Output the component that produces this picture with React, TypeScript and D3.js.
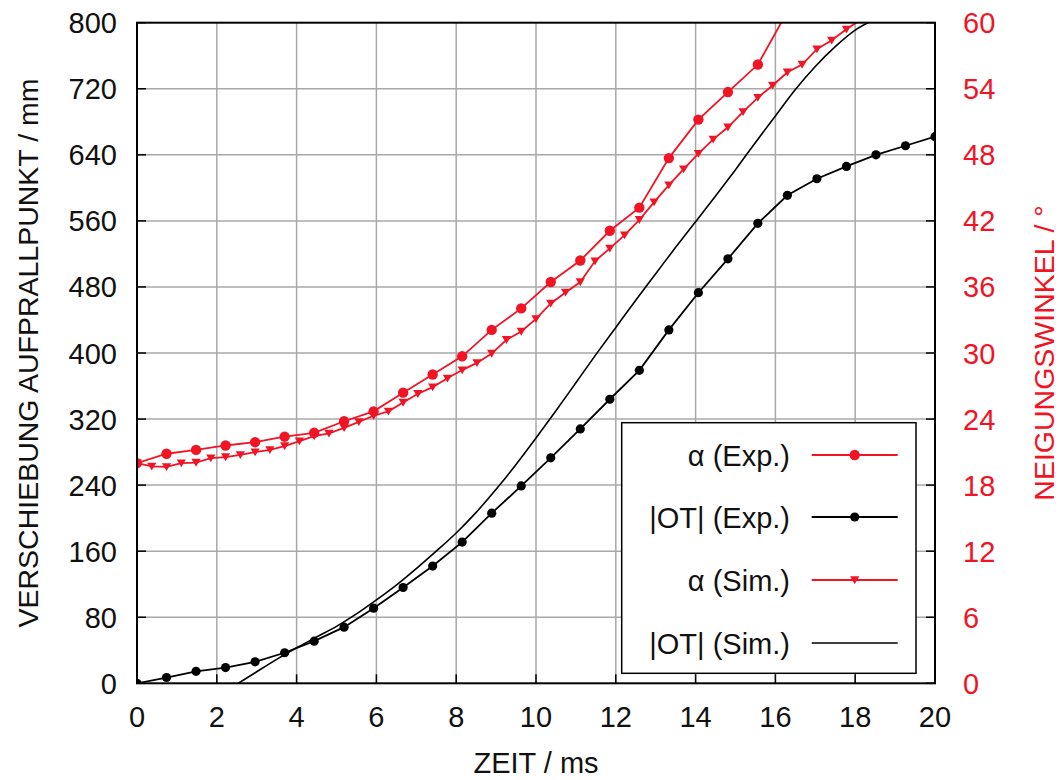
import React from "react";
import * as d3 from "d3";

// ---- data ----
const expTimes = [0, 0.74, 1.48, 2.22, 2.96, 3.7, 4.44, 5.19, 5.93, 6.67, 7.41, 8.15, 8.89, 9.63, 10.37, 11.11, 11.85, 12.59, 13.33, 14.07, 14.81, 15.56, 16.3, 17.04, 17.78, 18.52, 19.26, 20.0];
const alphaExp = [20.0, 20.85, 21.2, 21.6, 21.9, 22.4, 22.75, 23.8, 24.7, 26.4, 28.05, 29.7, 32.1, 34.05, 36.45, 38.4, 41.1, 43.2, 47.7, 51.2, 53.7, 56.2, 61.0];
const otExp = [0, 7, 14.5, 19, 26, 37, 51, 68, 91, 116, 142, 171, 206, 239, 273, 308, 344, 379, 428, 473, 514, 557, 591, 611, 626, 640, 651, 662];

const simTimes = [0, 0.37, 0.74, 1.11, 1.48, 1.85, 2.22, 2.59, 2.96, 3.33, 3.7, 4.07, 4.44, 4.81, 5.19, 5.56, 5.93, 6.3, 6.67, 7.04, 7.41, 7.78, 8.15, 8.52, 8.89, 9.26, 9.63, 10.0, 10.37, 10.74, 11.11, 11.48, 11.85, 12.22, 12.59, 12.96, 13.33, 13.7, 14.07, 14.44, 14.81, 15.19, 15.56, 15.93, 16.3, 16.67, 17.04, 17.41, 17.78, 18.15];
const alphaSim = [20.0, 19.7, 19.65, 20.0, 20.05, 20.45, 20.55, 20.75, 21.0, 21.2, 21.55, 22.0, 22.45, 22.7, 23.2, 23.75, 24.3, 24.7, 25.5, 26.3, 26.9, 27.7, 28.45, 29.1, 29.95, 31.2, 31.95, 33.1, 34.5, 35.5, 36.45, 38.35, 39.5, 40.7, 42.1, 43.7, 45.25, 46.7, 48.1, 49.4, 50.5, 51.9, 53.2, 54.3, 55.5, 56.2, 57.6, 58.4, 59.4, 60.3];

const otSimTimes = [2.54, 3.0, 3.5, 4.0, 4.5, 5.0, 5.5, 6.0, 6.5, 7.0, 7.5, 8.0, 8.5, 9.0, 9.5, 10.0, 10.5, 11.0, 11.5, 12.0, 12.5, 13.0, 13.5, 14.0, 14.5, 15.0, 15.5, 16.0, 16.5, 17.0, 17.5, 18.0, 18.4];
const otSim = [0, 14, 29, 43, 56, 69, 84, 101, 119, 139, 160, 182, 207, 235, 265, 297, 330, 364, 398, 431, 464, 496, 528, 559, 590, 622, 655, 687, 719, 747, 771, 791, 802];

const xTicks = [0, 2, 4, 6, 8, 10, 12, 14, 16, 18, 20];
const yLeftTicks = [0, 80, 160, 240, 320, 400, 480, 560, 640, 720, 800];
const yRightTicks = [0, 6, 12, 18, 24, 30, 36, 42, 48, 54, 60];

const legendLabels = ["α (Exp.)", "|OT| (Exp.)", "α (Sim.)", "|OT| (Sim.)"];

const xLabel = "ZEIT / ms";
const yLeftLabel = "VERSCHIEBUNG AUFPRALLPUNKT / mm";
const yRightLabel = "NEIGUNGSWINKEL / °";

// ---- layout ----
const W = 1062, H = 780;
const L = 137, R = 935, T = 22.7, B = 683.3;
const RED = "#f01424";
const FONT = "'Liberation Sans', Arial, Helvetica, sans-serif";

export default function App() {
  const x = d3.scaleLinear().domain([0, 20]).range([L, R]);
  const yL = d3.scaleLinear().domain([0, 800]).range([B, T]);
  const yR = d3.scaleLinear().domain([0, 60]).range([B, T]);

  const lineAlphaExp = d3.line<number>().x((_, i) => x(expTimes[i])).y((d) => yR(d))(alphaExp) || "";
  const lineOtExp = d3.line<number>().x((_, i) => x(expTimes[i])).y((d) => yL(d))(otExp) || "";
  const lineAlphaSim = d3.line<number>().x((_, i) => x(simTimes[i])).y((d) => yR(d))(alphaSim) || "";
  const lineOtSim = d3.line<number>().curve(d3.curveMonotoneX).x((_, i) => x(otSimTimes[i])).y((d) => yL(d))(otSim) || "";

  const tri = (cx: number, cy: number, s = 5) =>
    `M${cx - s},${cy - s * 0.8}L${cx + s},${cy - s * 0.8}L${cx},${cy + s * 0.9}Z`;

  const legX0 = 621.7, legY0 = 422.7, legX1 = 916, legY1 = 673.3;
  const legRows = [455, 517, 580, 643];
  const sampleX0 = 811.7, sampleX1 = 897.7, sampleMid = 854.7;

  return (
    <svg width={W} height={H} style={{ position: "absolute", left: 0, top: 0, background: "#fff" }} fontFamily={FONT}>
      <defs>
        <clipPath id="plotClip">
          <rect x={L} y={T} width={R - L} height={B - T} />
        </clipPath>
      </defs>
      <rect x={0} y={0} width={W} height={H} fill="#fff" />
      {/* grid */}
      <g stroke="#a8a8a8" strokeWidth={1.5}>
        {xTicks.slice(1, -1).map((t) => (
          <line key={"gx" + t} x1={x(t)} x2={x(t)} y1={T} y2={B} />
        ))}
        {yLeftTicks.slice(1, -1).map((t) => (
          <line key={"gy" + t} x1={L} x2={R} y1={yL(t)} y2={yL(t)} />
        ))}
      </g>
      {/* ticks inward */}
      <g stroke="#000" strokeWidth={1.5}>
        {yLeftTicks.map((t) => (
          <line key={"tl" + t} x1={L} x2={L + 9} y1={yL(t)} y2={yL(t)} />
        ))}
        {yRightTicks.map((t) => (
          <line key={"tr" + t} x1={R - 9} x2={R} y1={yR(t)} y2={yR(t)} />
        ))}
        {xTicks.map((t) => (
          <line key={"tb" + t} x1={x(t)} x2={x(t)} y1={B} y2={B - 9} />
        ))}
      </g>
      {/* series */}
      <g clipPath="url(#plotClip)">
        <path d={lineOtSim} fill="none" stroke="#000" strokeWidth={1.6} />
        <path d={lineOtExp} fill="none" stroke="#000" strokeWidth={1.8} />
        {otExp.map((v, i) => (
          <circle key={"oe" + i} cx={x(expTimes[i])} cy={yL(v)} r={4.6} fill="#000" />
        ))}
        <path d={lineAlphaSim} fill="none" stroke={RED} strokeWidth={1.8} />
        {alphaSim.map((v, i) => (
          <path key={"as" + i} d={tri(x(simTimes[i]), yR(v), 4.6)} fill={RED} />
        ))}
        <path d={lineAlphaExp} fill="none" stroke={RED} strokeWidth={1.8} />
        {alphaExp.map((v, i) => (
          <circle key={"ae" + i} cx={x(expTimes[i])} cy={yR(v)} r={5.2} fill={RED} />
        ))}
      </g>
      {/* border */}
      <rect x={L} y={T} width={R - L} height={B - T} fill="none" stroke="#000" strokeWidth={2} />
      {/* tick labels */}
      <g fontSize={29} fill="#111">
        {xTicks.map((t) => (
          <text key={"xl" + t} x={x(t)} y={727} textAnchor="middle">{t}</text>
        ))}
        {yLeftTicks.map((t) => (
          <text key={"yl" + t} x={117} y={yL(t) + 10.5} textAnchor="end">{t}</text>
        ))}
      </g>
      <g fontSize={29} fill={RED}>
        {yRightTicks.map((t) => (
          <text key={"yr" + t} x={963} y={yR(t) + 10.5} textAnchor="start">{t}</text>
        ))}
      </g>
      {/* axis titles */}
      <text x={(L + R) / 2} y={773} textAnchor="middle" fontSize={29} fill="#111">{xLabel}</text>
      <text transform={`translate(38,${(T + B) / 2}) rotate(-90)`} textAnchor="middle" fontSize={28.5} fill="#111">{yLeftLabel}</text>
      <text transform={`translate(1054,${(T + B) / 2}) rotate(-90)`} textAnchor="middle" fontSize={28.5} fill={RED}>{yRightLabel}</text>
      {/* legend */}
      <rect x={legX0} y={legY0} width={legX1 - legX0} height={legY1 - legY0} fill="#fff" stroke="#000" strokeWidth={1.5} />
      <g fontSize={29} fill="#111">
        {legendLabels.map((lab, i) => (
          <text key={"lg" + i} x={790} y={legRows[i] + 10.5} textAnchor="end">{lab}</text>
        ))}
      </g>
      <line x1={sampleX0} x2={sampleX1} y1={legRows[0]} y2={legRows[0]} stroke={RED} strokeWidth={1.8} />
      <circle cx={sampleMid} cy={legRows[0]} r={5.2} fill={RED} />
      <line x1={sampleX0} x2={sampleX1} y1={legRows[1]} y2={legRows[1]} stroke="#000" strokeWidth={1.8} />
      <circle cx={sampleMid} cy={legRows[1]} r={4.6} fill="#000" />
      <line x1={sampleX0} x2={sampleX1} y1={legRows[2]} y2={legRows[2]} stroke={RED} strokeWidth={1.8} />
      <path d={tri(sampleMid, legRows[2], 4.6)} fill={RED} />
      <line x1={sampleX0} x2={sampleX1} y1={legRows[3]} y2={legRows[3]} stroke="#000" strokeWidth={1.6} />
    </svg>
  );
}
